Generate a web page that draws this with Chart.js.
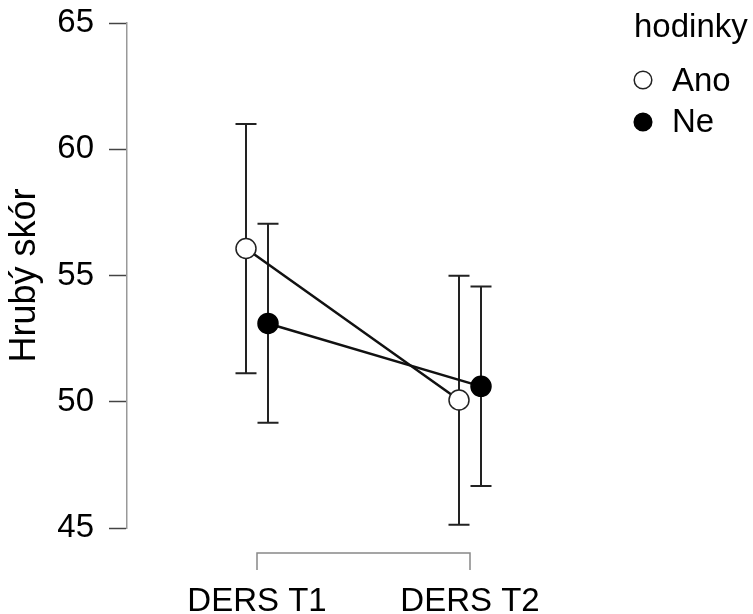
<!DOCTYPE html>
<html>
<head>
<meta charset="utf-8">
<script src="https://cdn.jsdelivr.net/npm/chart.js@4.4.1/dist/chart.umd.min.js"></script>
<style>
  html, body { margin: 0; padding: 0; background: #ffffff; }
  #wrap { width: 753px; height: 614px; position: relative; }
</style>
</head>
<body>
<div id="wrap"><canvas id="c" width="753" height="614"></canvas></div>
<script>
// ---- data ----
const categories = ['DERS T1', 'DERS T2'];
const groupLabels = ['Ano', 'Ne'];
const legendTitle = 'hodinky';
const yTitle = 'Hrubý skór';
const anoMean  = [56.07, 50.07];
const anoLower = [51.13, 45.13];
const anoUpper = [61.00, 54.99];
const neMean   = [53.10, 50.61];
const neLower  = [49.17, 46.66];
const neUpper  = [57.05, 54.56];
const yTicks = [45, 50, 55, 60, 65];

// ---- layout / style ----
const FONT = '"Liberation Sans", Arial, Helvetica, sans-serif';
const FS = 33;
const W = 753, H = 614;
const AREA = { left: 127, top: 23, right: 600, bottom: 528 };
const CAT_PX = { first: 257, step: 213 };
const X_MIN = 1 - (CAT_PX.first - AREA.left) / CAT_PX.step;
const X_MAX = X_MIN + (AREA.right - AREA.left) / CAT_PX.step;
const DODGE = 11 / CAT_PX.step;

function makeData(mean, lo, hi, shift) {
  return categories.map((c, i) => ({ x: i + 1 + shift, y: mean[i], lo: lo[i], hi: hi[i] }));
}

const datasets = [
  {
    label: groupLabels[0],
    data: makeData(anoMean, anoLower, anoUpper, -DODGE),
    showLine: true,
    borderColor: '#111',
    borderWidth: 2.5,
    pointRadius: 10,
    pointHoverRadius: 10,
    pointBackgroundColor: '#ffffff',
    pointBorderColor: '#222',
    pointBorderWidth: 1.5,
    order: 1
  },
  {
    label: groupLabels[1],
    data: makeData(neMean, neLower, neUpper, DODGE),
    showLine: true,
    borderColor: '#111',
    borderWidth: 2.5,
    pointRadius: 10,
    pointHoverRadius: 10,
    pointBackgroundColor: '#000000',
    pointBorderColor: '#000000',
    pointBorderWidth: 1.5,
    order: 0
  }
];

// error bars drawn from the scales
const errorBars = {
  id: 'errorBars',
  beforeDatasetsDraw(chart) {
    const ctx = chart.ctx;
    const ys = chart.scales.y;
    ctx.save();
    ctx.strokeStyle = '#222';
    ctx.lineWidth = 2;
    chart.data.datasets.forEach((ds, di) => {
      const meta = chart.getDatasetMeta(di);
      ds.data.forEach((p, i) => {
        const x = meta.data[i].x;
        const y1 = ys.getPixelForValue(p.lo);
        const y2 = ys.getPixelForValue(p.hi);
        const cap = 10.5;
        ctx.beginPath();
        ctx.moveTo(x, y1); ctx.lineTo(x, y2);
        ctx.moveTo(x - cap, y1); ctx.lineTo(x + cap, y1);
        ctx.moveTo(x - cap, y2); ctx.lineTo(x + cap, y2);
        ctx.stroke();
      });
    });
    ctx.restore();
  }
};

// R-style x axis bracket between first and last category
const xBracket = {
  id: 'xBracket',
  afterDraw(chart) {
    const ctx = chart.ctx;
    const xs = chart.scales.x;
    const x1 = xs.getPixelForValue(1);
    const x2 = xs.getPixelForValue(categories.length);
    const y = 553, tick = 17;
    ctx.save();
    ctx.strokeStyle = '#888';
    ctx.lineWidth = 1.5;
    ctx.beginPath();
    ctx.moveTo(x1, y + tick); ctx.lineTo(x1, y); ctx.lineTo(x2, y); ctx.lineTo(x2, y + tick);
    ctx.stroke();
    ctx.restore();
  }
};

// legend with title, built from datasets
const sideLegend = {
  id: 'sideLegend',
  afterDraw(chart) {
    const ctx = chart.ctx;
    ctx.save();
    ctx.font = FS + 'px ' + FONT;
    ctx.fillStyle = '#000';
    ctx.textAlign = 'left';
    ctx.textBaseline = 'alphabetic';
    ctx.fillText(legendTitle, 634, 37);
    const rows = [{ cy: 80, base: 91 }, { cy: 122, base: 132 }];
    chart.data.datasets.forEach((ds, i) => {
      const r = rows[i];
      ctx.beginPath();
      ctx.arc(643, r.cy, 8.8, 0, Math.PI * 2);
      ctx.fillStyle = ds.pointBackgroundColor;
      ctx.fill();
      ctx.lineWidth = 1.5;
      ctx.strokeStyle = ds.pointBorderColor;
      ctx.stroke();
      ctx.fillStyle = '#000';
      ctx.fillText(ds.label, 672, r.base);
    });
    ctx.restore();
  }
};

new Chart(document.getElementById('c'), {
  type: 'scatter',
  data: { datasets },
  plugins: [errorBars, xBracket, sideLegend],
  options: {
    responsive: false,
    animation: false,
    events: [],
    layout: { padding: { top: AREA.top, right: W - AREA.right, bottom: 0, left: 0 } },
    plugins: { legend: { display: false }, tooltip: { enabled: false } },
    scales: {
      x: {
        type: 'linear',
        min: X_MIN,
        max: X_MAX,
        grid: { display: false },
        border: { display: false },
        afterBuildTicks(scale) { scale.ticks = categories.map((c, i) => ({ value: i + 1 })); },
        afterFit(scale) { scale.height = H - AREA.bottom; },
        ticks: {
          autoSkip: false,
          maxRotation: 0,
          padding: 46,
          color: '#000',
          font: { family: FONT, size: FS },
          callback: (v) => categories[Math.round(v) - 1] || ''
        }
      },
      y: {
        min: yTicks[0],
        max: yTicks[yTicks.length - 1],
        afterBuildTicks(scale) { scale.ticks = yTicks.map(v => ({ value: v })); },
        afterFit(scale) { scale.width = AREA.left; },
        grid: { display: true, drawOnChartArea: false, drawTicks: true, tickLength: 18, tickColor: '#444', tickWidth: 1.5 },
        border: { display: true, color: '#999', width: 1.5 },
        ticks: { padding: 15, color: '#000', font: { family: FONT, size: FS, lineHeight: 0.4 } },
        title: {
          display: true,
          text: yTitle,
          color: '#000',
          font: { family: FONT, size: 36 },
          padding: { top: 3, bottom: 0 }
        }
      }
    }
  }
});
</script>
</body>
</html>
